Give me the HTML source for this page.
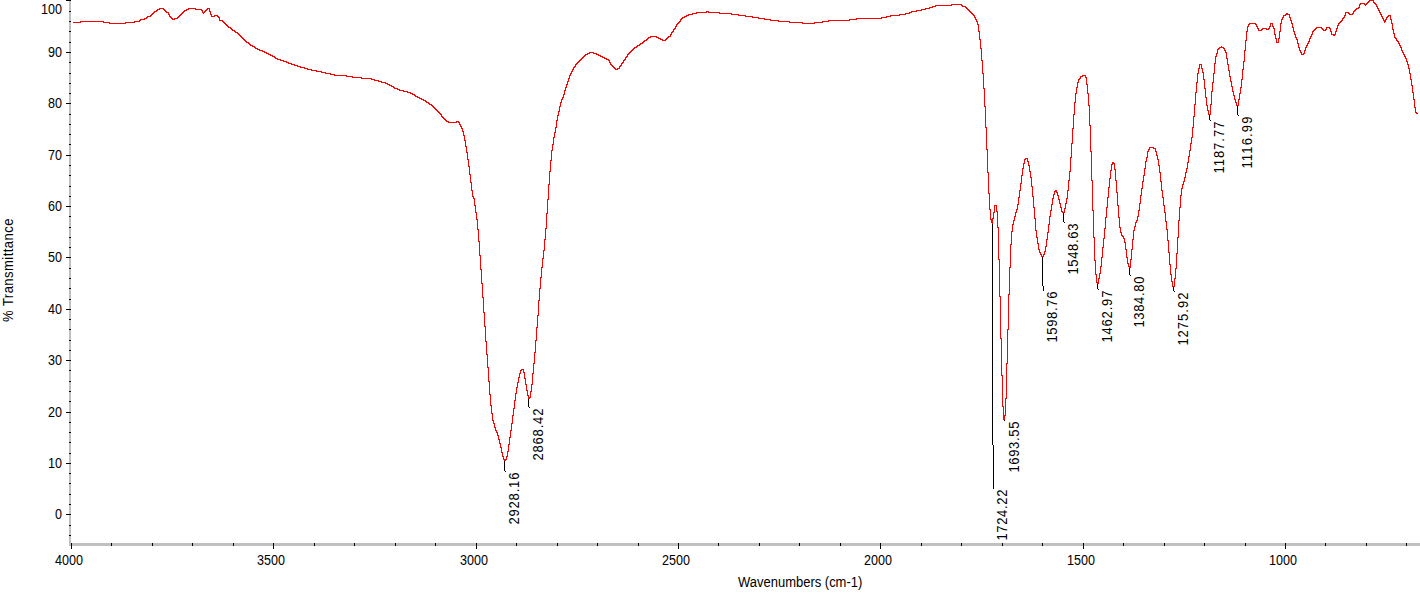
<!DOCTYPE html>
<html><head><meta charset="utf-8"><style>
html,body{margin:0;padding:0;background:#fff;width:1420px;height:596px;overflow:hidden}
svg{display:block}
text{font-family:'Liberation Sans',sans-serif;fill:#000}
</style></head><body>
<svg width="1420" height="596" viewBox="0 0 1420 596">
<rect width="1420" height="596" fill="#fff"/>
<g shape-rendering="crispEdges">
<rect x="69" y="0" width="2" height="546" fill="#c0c0c0"/>
<rect x="71" y="543" width="1349" height="3" fill="#c0c0c0"/>
<rect x="69" y="535" width="2" height="1" fill="#000"/>
<rect x="69" y="525" width="2" height="1" fill="#000"/>
<rect x="66" y="514" width="5" height="1" fill="#000"/>
<rect x="69" y="504" width="2" height="1" fill="#000"/>
<rect x="69" y="494" width="2" height="1" fill="#000"/>
<rect x="69" y="483" width="2" height="1" fill="#000"/>
<rect x="69" y="473" width="2" height="1" fill="#000"/>
<rect x="66" y="463" width="5" height="1" fill="#000"/>
<rect x="69" y="453" width="2" height="1" fill="#000"/>
<rect x="69" y="442" width="2" height="1" fill="#000"/>
<rect x="69" y="432" width="2" height="1" fill="#000"/>
<rect x="69" y="422" width="2" height="1" fill="#000"/>
<rect x="66" y="412" width="5" height="1" fill="#000"/>
<rect x="69" y="401" width="2" height="1" fill="#000"/>
<rect x="69" y="391" width="2" height="1" fill="#000"/>
<rect x="69" y="381" width="2" height="1" fill="#000"/>
<rect x="69" y="370" width="2" height="1" fill="#000"/>
<rect x="66" y="360" width="5" height="1" fill="#000"/>
<rect x="69" y="350" width="2" height="1" fill="#000"/>
<rect x="69" y="340" width="2" height="1" fill="#000"/>
<rect x="69" y="329" width="2" height="1" fill="#000"/>
<rect x="69" y="319" width="2" height="1" fill="#000"/>
<rect x="66" y="309" width="5" height="1" fill="#000"/>
<rect x="69" y="299" width="2" height="1" fill="#000"/>
<rect x="69" y="288" width="2" height="1" fill="#000"/>
<rect x="69" y="278" width="2" height="1" fill="#000"/>
<rect x="69" y="268" width="2" height="1" fill="#000"/>
<rect x="66" y="257" width="5" height="1" fill="#000"/>
<rect x="69" y="247" width="2" height="1" fill="#000"/>
<rect x="69" y="237" width="2" height="1" fill="#000"/>
<rect x="69" y="227" width="2" height="1" fill="#000"/>
<rect x="69" y="216" width="2" height="1" fill="#000"/>
<rect x="66" y="206" width="5" height="1" fill="#000"/>
<rect x="69" y="196" width="2" height="1" fill="#000"/>
<rect x="69" y="186" width="2" height="1" fill="#000"/>
<rect x="69" y="175" width="2" height="1" fill="#000"/>
<rect x="69" y="165" width="2" height="1" fill="#000"/>
<rect x="66" y="155" width="5" height="1" fill="#000"/>
<rect x="69" y="144" width="2" height="1" fill="#000"/>
<rect x="69" y="134" width="2" height="1" fill="#000"/>
<rect x="69" y="124" width="2" height="1" fill="#000"/>
<rect x="69" y="114" width="2" height="1" fill="#000"/>
<rect x="66" y="103" width="5" height="1" fill="#000"/>
<rect x="69" y="93" width="2" height="1" fill="#000"/>
<rect x="69" y="83" width="2" height="1" fill="#000"/>
<rect x="69" y="73" width="2" height="1" fill="#000"/>
<rect x="69" y="62" width="2" height="1" fill="#000"/>
<rect x="66" y="52" width="5" height="1" fill="#000"/>
<rect x="69" y="42" width="2" height="1" fill="#000"/>
<rect x="69" y="31" width="2" height="1" fill="#000"/>
<rect x="69" y="21" width="2" height="1" fill="#000"/>
<rect x="69" y="11" width="2" height="1" fill="#000"/>
<rect x="66" y="0" width="5" height="1" fill="#000"/>
<rect x="71" y="543" width="1" height="6" fill="#000"/>
<rect x="111" y="543" width="1" height="3" fill="#000"/>
<rect x="152" y="543" width="1" height="3" fill="#000"/>
<rect x="192" y="543" width="1" height="3" fill="#000"/>
<rect x="233" y="543" width="1" height="3" fill="#000"/>
<rect x="273" y="543" width="1" height="6" fill="#000"/>
<rect x="314" y="543" width="1" height="3" fill="#000"/>
<rect x="354" y="543" width="1" height="3" fill="#000"/>
<rect x="395" y="543" width="1" height="3" fill="#000"/>
<rect x="435" y="543" width="1" height="3" fill="#000"/>
<rect x="476" y="543" width="1" height="6" fill="#000"/>
<rect x="516" y="543" width="1" height="3" fill="#000"/>
<rect x="557" y="543" width="1" height="3" fill="#000"/>
<rect x="597" y="543" width="1" height="3" fill="#000"/>
<rect x="638" y="543" width="1" height="3" fill="#000"/>
<rect x="678" y="543" width="1" height="6" fill="#000"/>
<rect x="718" y="543" width="1" height="3" fill="#000"/>
<rect x="759" y="543" width="1" height="3" fill="#000"/>
<rect x="799" y="543" width="1" height="3" fill="#000"/>
<rect x="840" y="543" width="1" height="3" fill="#000"/>
<rect x="880" y="543" width="1" height="6" fill="#000"/>
<rect x="921" y="543" width="1" height="3" fill="#000"/>
<rect x="961" y="543" width="1" height="3" fill="#000"/>
<rect x="1002" y="543" width="1" height="3" fill="#000"/>
<rect x="1042" y="543" width="1" height="3" fill="#000"/>
<rect x="1083" y="543" width="1" height="6" fill="#000"/>
<rect x="1123" y="543" width="1" height="3" fill="#000"/>
<rect x="1164" y="543" width="1" height="3" fill="#000"/>
<rect x="1204" y="543" width="1" height="3" fill="#000"/>
<rect x="1245" y="543" width="1" height="3" fill="#000"/>
<rect x="1285" y="543" width="1" height="6" fill="#000"/>
<rect x="1325" y="543" width="1" height="3" fill="#000"/>
<rect x="1366" y="543" width="1" height="3" fill="#000"/>
<rect x="1406" y="543" width="1" height="3" fill="#000"/>
<rect x="504" y="461" width="1" height="10" fill="#000"/>
<rect x="505" y="471" width="1" height="1" fill="#000"/>
<rect x="528" y="399" width="1" height="8" fill="#000"/>
<rect x="529" y="407" width="1" height="1" fill="#000"/>
<rect x="992" y="224" width="1" height="221" fill="#000"/>
<rect x="993" y="445" width="1" height="44" fill="#000"/>
<rect x="1004" y="420" width="1" height="1" fill="#000"/>
<rect x="1042" y="257" width="1" height="29" fill="#000"/>
<rect x="1043" y="286" width="1" height="5" fill="#000"/>
<rect x="1063" y="213" width="1" height="9" fill="#000"/>
<rect x="1064" y="222" width="1" height="1" fill="#000"/>
<rect x="1097" y="284" width="1" height="5" fill="#000"/>
<rect x="1098" y="289" width="1" height="1" fill="#000"/>
<rect x="1129" y="268" width="1" height="7" fill="#000"/>
<rect x="1130" y="275" width="1" height="1" fill="#000"/>
<rect x="1173" y="287" width="1" height="4" fill="#000"/>
<rect x="1174" y="291" width="1" height="1" fill="#000"/>
<rect x="1209" y="114" width="1" height="6" fill="#000"/>
<rect x="1210" y="120" width="1" height="1" fill="#000"/>
<rect x="1237" y="106" width="1" height="9" fill="#000"/>
<rect x="1238" y="115" width="1" height="1" fill="#000"/>
</g>
<path fill="#ff0000" shape-rendering="crispEdges" d="M73 22h7v1h-7zM80 21h1v2h-1zM81 21h22v1h-22zM103 21h1v2h-1zM104 22h5v1h-5zM109 22h1v2h-1zM110 23h15v1h-15zM125 22h1v2h-1zM126 22h8v1h-8zM134 21h1v2h-1zM135 21h4v1h-4zM139 20h1v2h-1zM140 19h1v2h-1zM141 19h3v1h-3zM144 18h1v2h-1zM145 18h1v1h-1zM146 17h1v2h-1zM147 16h1v2h-1zM148 16h2v1h-2zM150 15h1v2h-1zM151 14h1v2h-1zM152 13h1v2h-1zM153 12h1v2h-1zM154 11h1v2h-1zM155 11h1v1h-1zM156 10h1v2h-1zM157 9h1v2h-1zM158 9h1v1h-1zM159 8h1v2h-1zM160 8h3v1h-3zM163 8h1v2h-1zM164 9h1v2h-1zM165 10h1v2h-1zM166 11h1v2h-1zM167 12h1v1h-1zM168 12h1v3h-1zM169 14h1v3h-1zM170 16h1v2h-1zM171 17h1v2h-1zM172 18h1v2h-1zM173 19h1v1h-1zM174 18h1v2h-1zM175 18h2v1h-2zM177 17h1v2h-1zM178 16h1v2h-1zM179 15h1v2h-1zM180 14h1v2h-1zM181 13h1v2h-1zM182 12h1v2h-1zM183 11h1v2h-1zM184 10h1v2h-1zM185 10h1v1h-1zM186 9h1v2h-1zM187 9h1v1h-1zM188 8h1v2h-1zM189 8h6v1h-6zM195 8h1v2h-1zM196 9h5v1h-5zM201 9h1v2h-1zM202 10h1v3h-1zM203 12h1v2h-1zM204 11h1v2h-1zM205 10h1v2h-1zM206 9h1v2h-1zM207 8h1v2h-1zM208 8h1v1h-1zM209 8h1v4h-1zM210 11h1v4h-1zM211 14h1v3h-1zM212 16h2v1h-2zM214 15h1v2h-1zM215 15h2v1h-2zM217 15h1v2h-1zM218 16h1v2h-1zM219 17h1v4h-1zM220 20h2v1h-2zM222 20h1v2h-1zM223 21h1v2h-1zM224 22h1v2h-1zM225 23h1v2h-1zM226 24h1v2h-1zM227 25h1v2h-1zM228 26h1v2h-1zM229 27h1v1h-1zM230 27h1v2h-1zM231 28h1v2h-1zM232 29h1v2h-1zM233 30h1v1h-1zM234 30h1v2h-1zM235 31h1v2h-1zM236 32h1v1h-1zM237 32h1v2h-1zM238 33h1v2h-1zM239 34h1v2h-1zM240 35h1v2h-1zM241 36h1v2h-1zM242 37h1v2h-1zM243 38h1v2h-1zM244 39h1v2h-1zM245 40h1v2h-1zM246 41h1v2h-1zM247 42h1v1h-1zM248 42h1v2h-1zM249 43h1v2h-1zM250 44h1v2h-1zM251 45h1v1h-1zM252 45h1v2h-1zM253 46h1v1h-1zM254 46h1v2h-1zM255 47h1v2h-1zM256 48h1v1h-1zM257 48h1v2h-1zM258 49h1v1h-1zM259 49h1v2h-1zM260 50h2v1h-2zM262 50h1v2h-1zM263 51h1v1h-1zM264 51h1v2h-1zM265 52h1v1h-1zM266 52h1v2h-1zM267 53h1v1h-1zM268 53h1v2h-1zM269 54h1v1h-1zM270 54h1v2h-1zM271 55h1v1h-1zM272 55h1v2h-1zM273 56h1v1h-1zM274 56h1v2h-1zM275 57h1v2h-1zM276 58h1v1h-1zM277 58h1v2h-1zM278 59h2v1h-2zM280 59h1v2h-1zM281 60h2v1h-2zM283 60h1v2h-1zM284 61h2v1h-2zM286 61h1v2h-1zM287 62h1v1h-1zM288 62h1v2h-1zM289 63h2v1h-2zM291 63h1v2h-1zM292 64h2v1h-2zM294 64h1v2h-1zM295 65h2v1h-2zM297 65h1v2h-1zM298 66h2v1h-2zM300 66h1v2h-1zM301 67h3v1h-3zM304 67h1v2h-1zM305 68h2v1h-2zM307 68h1v2h-1zM308 69h3v1h-3zM311 69h1v2h-1zM312 70h4v1h-4zM316 70h1v2h-1zM317 71h4v1h-4zM321 71h1v2h-1zM322 72h3v1h-3zM325 72h1v2h-1zM326 73h4v1h-4zM330 73h1v2h-1zM331 74h3v1h-3zM334 74h1v2h-1zM335 75h11v1h-11zM346 75h1v2h-1zM347 76h5v1h-5zM352 76h1v2h-1zM353 77h8v1h-8zM361 77h1v2h-1zM362 78h9v1h-9zM371 78h1v2h-1zM372 79h2v1h-2zM374 79h1v2h-1zM375 80h3v1h-3zM378 80h1v2h-1zM379 81h2v1h-2zM381 81h1v2h-1zM382 82h3v1h-3zM385 82h1v2h-1zM386 83h1v1h-1zM387 83h1v2h-1zM388 84h1v1h-1zM389 84h1v2h-1zM390 85h1v1h-1zM391 85h1v2h-1zM392 86h1v1h-1zM393 86h1v2h-1zM394 87h1v2h-1zM395 88h2v1h-2zM397 88h1v2h-1zM398 89h1v1h-1zM399 89h1v2h-1zM400 90h3v1h-3zM403 90h1v2h-1zM404 91h3v1h-3zM407 91h1v2h-1zM408 92h2v1h-2zM410 92h1v2h-1zM411 93h1v1h-1zM412 93h1v2h-1zM413 94h1v1h-1zM414 94h1v2h-1zM415 95h1v2h-1zM416 96h1v1h-1zM417 96h1v2h-1zM418 97h1v1h-1zM419 97h1v2h-1zM420 98h1v1h-1zM421 98h1v2h-1zM422 99h1v1h-1zM423 99h1v2h-1zM424 100h1v1h-1zM425 100h1v2h-1zM426 101h1v2h-1zM427 102h1v1h-1zM428 102h1v2h-1zM429 103h1v2h-1zM430 104h1v1h-1zM431 104h1v2h-1zM432 105h1v2h-1zM433 106h1v2h-1zM434 107h1v2h-1zM435 108h1v2h-1zM436 109h1v2h-1zM437 110h1v2h-1zM438 111h1v2h-1zM439 112h1v2h-1zM440 113h1v2h-1zM441 114h1v3h-1zM442 116h1v2h-1zM443 117h1v2h-1zM444 118h1v2h-1zM445 119h1v2h-1zM446 120h1v2h-1zM447 121h1v1h-1zM448 121h1v2h-1zM449 122h7v1h-7zM456 121h1v2h-1zM457 121h1v1h-1zM458 121h1v2h-1zM459 122h1v3h-1zM460 124h1v3h-1zM461 126h1v3h-1zM462 128h1v4h-1zM463 131h1v5h-1zM464 135h1v6h-1zM465 140h1v7h-1zM466 146h1v7h-1zM467 152h1v8h-1zM468 159h1v8h-1zM469 166h1v9h-1zM470 174h1v9h-1zM471 182h1v9h-1zM472 190h1v7h-1zM473 196h1v3h-1zM474 198h1v8h-1zM475 205h1v8h-1zM476 212h1v8h-1zM477 219h1v11h-1zM478 229h1v13h-1zM479 241h1v15h-1zM480 255h1v15h-1zM481 269h1v15h-1zM482 283h1v15h-1zM483 297h1v16h-1zM484 312h1v15h-1zM485 326h1v16h-1zM486 341h1v14h-1zM487 354h1v14h-1zM488 367h1v15h-1zM489 381h1v14h-1zM490 394h1v12h-1zM491 405h1v9h-1zM492 413h1v8h-1zM493 420h1v4h-1zM494 423h1v5h-1zM495 427h1v4h-1zM496 430h1v3h-1zM497 432h1v4h-1zM498 435h1v5h-1zM499 439h1v5h-1zM500 443h1v5h-1zM501 447h1v6h-1zM502 452h1v5h-1zM503 456h1v4h-1zM504 459h2v2h-2zM506 456h1v4h-1zM507 451h1v6h-1zM508 444h1v8h-1zM509 437h1v8h-1zM510 430h1v8h-1zM511 423h1v8h-1zM512 415h1v9h-1zM513 408h1v8h-1zM514 400h1v9h-1zM515 393h1v8h-1zM516 387h1v7h-1zM517 382h1v6h-1zM518 377h1v6h-1zM519 373h1v5h-1zM520 370h1v4h-1zM521 369h1v2h-1zM522 369h1v1h-1zM523 369h1v4h-1zM524 372h1v7h-1zM525 378h1v7h-1zM526 384h1v7h-1zM527 390h1v6h-1zM528 395h1v4h-1zM529 397h1v2h-1zM530 391h1v7h-1zM531 384h1v8h-1zM532 373h1v12h-1zM533 363h1v11h-1zM534 352h1v12h-1zM535 340h1v13h-1zM536 327h1v14h-1zM537 315h1v13h-1zM538 300h1v16h-1zM539 288h1v13h-1zM540 277h1v12h-1zM541 267h1v11h-1zM542 258h1v10h-1zM543 250h1v9h-1zM544 239h1v12h-1zM545 228h1v12h-1zM546 213h1v16h-1zM547 199h1v15h-1zM548 184h1v16h-1zM549 171h1v14h-1zM550 160h1v12h-1zM551 150h1v11h-1zM552 144h1v7h-1zM553 137h1v8h-1zM554 132h1v6h-1zM555 127h1v6h-1zM556 120h1v8h-1zM557 115h1v6h-1zM558 111h1v5h-1zM559 106h1v6h-1zM560 102h1v5h-1zM561 99h1v4h-1zM562 97h1v3h-1zM563 94h1v4h-1zM564 90h1v5h-1zM565 87h1v4h-1zM566 84h1v4h-1zM567 81h1v4h-1zM568 78h1v4h-1zM569 75h1v4h-1zM570 73h1v3h-1zM571 71h1v3h-1zM572 69h1v3h-1zM573 67h1v3h-1zM574 66h1v2h-1zM575 64h1v3h-1zM576 63h1v2h-1zM577 62h1v2h-1zM578 61h1v2h-1zM579 60h1v2h-1zM580 59h1v2h-1zM581 58h1v2h-1zM582 57h1v2h-1zM583 56h1v2h-1zM584 55h1v2h-1zM585 54h1v2h-1zM586 54h1v1h-1zM587 53h1v2h-1zM588 53h1v1h-1zM589 52h1v2h-1zM590 52h3v1h-3zM593 52h1v2h-1zM594 53h2v1h-2zM596 53h1v2h-1zM597 54h1v1h-1zM598 54h1v2h-1zM599 55h1v1h-1zM600 55h1v2h-1zM601 56h1v1h-1zM602 56h1v2h-1zM603 57h1v1h-1zM604 57h1v2h-1zM605 58h1v1h-1zM606 58h1v2h-1zM607 59h1v1h-1zM608 59h1v2h-1zM609 60h1v3h-1zM610 62h1v3h-1zM611 64h1v2h-1zM612 65h1v2h-1zM613 66h1v2h-1zM614 67h1v2h-1zM615 68h1v2h-1zM616 69h1v1h-1zM617 68h1v2h-1zM618 68h1v1h-1zM619 66h1v3h-1zM620 65h1v2h-1zM621 63h1v3h-1zM622 62h1v2h-1zM623 60h1v3h-1zM624 59h1v2h-1zM625 57h1v3h-1zM626 56h1v2h-1zM627 54h1v3h-1zM628 53h1v2h-1zM629 52h1v2h-1zM630 51h1v2h-1zM631 50h1v2h-1zM632 49h1v2h-1zM633 48h1v2h-1zM634 47h1v2h-1zM635 47h1v1h-1zM636 46h1v2h-1zM637 45h1v2h-1zM638 45h1v1h-1zM639 44h1v2h-1zM640 43h1v2h-1zM641 43h1v1h-1zM642 42h1v2h-1zM643 41h1v2h-1zM644 40h1v2h-1zM645 40h1v1h-1zM646 39h1v2h-1zM647 38h1v2h-1zM648 37h1v2h-1zM649 37h1v1h-1zM650 36h1v2h-1zM651 36h5v1h-5zM656 36h1v2h-1zM657 37h1v1h-1zM658 37h1v2h-1zM659 38h1v1h-1zM660 38h1v2h-1zM661 39h1v1h-1zM662 39h1v2h-1zM663 40h2v1h-2zM665 39h1v2h-1zM666 38h1v2h-1zM667 37h1v2h-1zM668 36h1v2h-1zM669 36h1v1h-1zM670 34h1v3h-1zM671 32h1v3h-1zM672 31h1v2h-1zM673 29h1v3h-1zM674 28h1v2h-1zM675 26h1v3h-1zM676 24h1v3h-1zM677 23h1v2h-1zM678 22h1v2h-1zM679 21h1v2h-1zM680 19h1v3h-1zM681 18h1v2h-1zM682 17h1v2h-1zM683 17h1v1h-1zM684 16h1v2h-1zM685 16h1v1h-1zM686 15h1v2h-1zM687 15h1v1h-1zM688 14h1v2h-1zM689 14h3v1h-3zM692 13h1v2h-1zM693 13h3v1h-3zM696 12h1v2h-1zM697 12h9v1h-9zM706 11h1v2h-1zM707 11h1v1h-1zM708 11h1v2h-1zM709 12h10v1h-10zM719 12h1v2h-1zM720 13h11v1h-11zM731 13h1v2h-1zM732 14h6v1h-6zM738 14h1v2h-1zM739 15h6v1h-6zM745 15h1v2h-1zM746 16h6v1h-6zM752 16h1v2h-1zM753 17h5v1h-5zM758 17h1v2h-1zM759 18h5v1h-5zM764 18h1v2h-1zM765 19h5v1h-5zM770 19h1v2h-1zM771 20h7v1h-7zM778 20h1v2h-1zM779 21h10v1h-10zM789 21h1v2h-1zM790 22h12v1h-12zM802 22h1v2h-1zM803 23h11v1h-11zM814 22h1v2h-1zM815 22h7v1h-7zM822 21h1v2h-1zM823 21h5v1h-5zM828 20h1v2h-1zM829 20h20v1h-20zM849 19h1v2h-1zM850 19h6v1h-6zM856 18h1v2h-1zM857 18h24v1h-24zM881 17h1v2h-1zM882 17h4v1h-4zM886 16h1v2h-1zM887 16h3v1h-3zM890 15h1v2h-1zM891 15h8v1h-8zM899 14h1v2h-1zM900 14h5v1h-5zM905 13h1v2h-1zM906 13h3v1h-3zM909 12h1v2h-1zM910 12h1v1h-1zM911 11h1v2h-1zM912 11h4v1h-4zM916 10h1v2h-1zM917 10h4v1h-4zM921 9h1v2h-1zM922 9h3v1h-3zM925 8h1v2h-1zM926 8h3v1h-3zM929 7h1v2h-1zM930 7h2v1h-2zM932 6h1v2h-1zM933 6h2v1h-2zM935 5h1v2h-1zM936 5h15v1h-15zM951 4h1v2h-1zM952 4h9v1h-9zM961 4h1v2h-1zM962 5h1v2h-1zM963 6h2v1h-2zM965 6h1v2h-1zM966 7h1v2h-1zM967 8h1v2h-1zM968 9h1v2h-1zM969 10h1v2h-1zM970 11h1v2h-1zM971 12h1v2h-1zM972 13h1v2h-1zM973 14h1v2h-1zM974 15h1v3h-1zM975 17h1v3h-1zM976 19h1v3h-1zM977 21h1v4h-1zM978 24h1v8h-1zM979 31h1v9h-1zM980 39h1v10h-1zM981 48h1v13h-1zM982 60h1v14h-1zM983 73h1v16h-1zM984 88h1v19h-1zM985 106h1v22h-1zM986 127h1v23h-1zM987 149h1v24h-1zM988 172h1v22h-1zM989 193h1v17h-1zM990 209h1v11h-1zM991 219h1v4h-1zM992 218h1v6h-1zM993 212h1v7h-1zM994 205h1v8h-1zM995 205h1v1h-1zM996 205h1v7h-1zM997 211h1v17h-1zM998 227h1v33h-1zM999 259h1v38h-1zM1000 296h1v43h-1zM1001 338h1v38h-1zM1002 375h1v32h-1zM1003 406h1v14h-1zM1004 415h1v5h-1zM1005 398h1v18h-1zM1006 363h1v36h-1zM1007 329h1v35h-1zM1008 294h1v36h-1zM1009 267h1v28h-1zM1010 244h1v24h-1zM1011 231h1v14h-1zM1012 224h1v8h-1zM1013 220h1v5h-1zM1014 216h1v5h-1zM1015 212h1v5h-1zM1016 209h1v4h-1zM1017 204h1v6h-1zM1018 197h1v8h-1zM1019 190h1v8h-1zM1020 183h1v8h-1zM1021 175h1v9h-1zM1022 168h1v8h-1zM1023 163h1v6h-1zM1024 159h1v5h-1zM1025 158h1v2h-1zM1026 158h1v1h-1zM1027 158h1v4h-1zM1028 161h1v5h-1zM1029 165h1v7h-1zM1030 171h1v7h-1zM1031 177h1v10h-1zM1032 186h1v11h-1zM1033 196h1v12h-1zM1034 207h1v12h-1zM1035 218h1v13h-1zM1036 230h1v8h-1zM1037 237h1v7h-1zM1038 243h1v7h-1zM1039 249h1v4h-1zM1040 252h1v3h-1zM1041 254h1v3h-1zM1042 256h1v1h-1zM1043 254h1v3h-1zM1044 251h1v4h-1zM1045 246h1v6h-1zM1046 239h1v8h-1zM1047 232h1v8h-1zM1048 224h1v9h-1zM1049 216h1v9h-1zM1050 210h1v7h-1zM1051 204h1v7h-1zM1052 198h1v7h-1zM1053 194h1v5h-1zM1054 191h1v4h-1zM1055 190h1v2h-1zM1056 190h1v3h-1zM1057 192h1v4h-1zM1058 195h1v5h-1zM1059 199h1v5h-1zM1060 203h1v5h-1zM1061 207h1v5h-1zM1062 211h1v2h-1zM1063 212h1v1h-1zM1064 208h1v5h-1zM1065 203h1v6h-1zM1066 198h1v6h-1zM1067 190h1v9h-1zM1068 180h1v11h-1zM1069 171h1v10h-1zM1070 157h1v15h-1zM1071 143h1v15h-1zM1072 128h1v16h-1zM1073 114h1v15h-1zM1074 102h1v13h-1zM1075 93h1v10h-1zM1076 87h1v7h-1zM1077 82h1v6h-1zM1078 79h1v4h-1zM1079 78h1v2h-1zM1080 76h1v3h-1zM1081 76h1v1h-1zM1082 75h1v2h-1zM1083 75h2v1h-2zM1085 75h1v3h-1zM1086 77h1v8h-1zM1087 84h1v10h-1zM1088 93h1v13h-1zM1089 105h1v21h-1zM1090 125h1v27h-1zM1091 151h1v30h-1zM1092 180h1v31h-1zM1093 210h1v28h-1zM1094 237h1v24h-1zM1095 260h1v15h-1zM1096 274h1v9h-1zM1097 282h1v2h-1zM1098 278h1v6h-1zM1099 273h1v6h-1zM1100 266h1v8h-1zM1101 257h1v10h-1zM1102 247h1v11h-1zM1103 238h1v10h-1zM1104 228h1v11h-1zM1105 217h1v12h-1zM1106 207h1v11h-1zM1107 197h1v11h-1zM1108 187h1v11h-1zM1109 178h1v10h-1zM1110 170h1v9h-1zM1111 164h1v7h-1zM1112 162h1v3h-1zM1113 162h1v2h-1zM1114 163h1v7h-1zM1115 169h1v12h-1zM1116 180h1v13h-1zM1117 192h1v14h-1zM1118 205h1v13h-1zM1119 217h1v11h-1zM1120 227h1v6h-1zM1121 232h1v4h-1zM1122 235h1v2h-1zM1123 236h1v3h-1zM1124 238h1v5h-1zM1125 242h1v8h-1zM1126 249h1v9h-1zM1127 257h1v7h-1zM1128 263h1v4h-1zM1129 266h1v2h-1zM1130 259h1v9h-1zM1131 249h1v11h-1zM1132 239h1v11h-1zM1133 230h1v10h-1zM1134 226h1v5h-1zM1135 222h1v5h-1zM1136 220h1v3h-1zM1137 216h1v5h-1zM1138 210h1v7h-1zM1139 203h1v8h-1zM1140 195h1v9h-1zM1141 188h1v8h-1zM1142 181h1v8h-1zM1143 175h1v7h-1zM1144 168h1v8h-1zM1145 161h1v8h-1zM1146 157h1v5h-1zM1147 151h1v7h-1zM1148 149h1v3h-1zM1149 147h1v3h-1zM1150 147h3v1h-3zM1153 147h1v2h-1zM1154 148h1v1h-1zM1155 148h1v4h-1zM1156 151h1v5h-1zM1157 155h1v5h-1zM1158 159h1v7h-1zM1159 165h1v8h-1zM1160 172h1v10h-1zM1161 181h1v10h-1zM1162 190h1v8h-1zM1163 197h1v9h-1zM1164 205h1v8h-1zM1165 212h1v10h-1zM1166 221h1v9h-1zM1167 229h1v12h-1zM1168 240h1v13h-1zM1169 252h1v13h-1zM1170 264h1v11h-1zM1171 274h1v8h-1zM1172 281h1v6h-1zM1173 286h1v1h-1zM1174 278h1v9h-1zM1175 268h1v11h-1zM1176 253h1v16h-1zM1177 237h1v17h-1zM1178 220h1v18h-1zM1179 207h1v14h-1zM1180 195h1v13h-1zM1181 188h1v8h-1zM1182 184h1v5h-1zM1183 181h1v4h-1zM1184 177h1v5h-1zM1185 172h1v6h-1zM1186 168h1v5h-1zM1187 162h1v7h-1zM1188 156h1v7h-1zM1189 150h1v7h-1zM1190 143h1v8h-1zM1191 137h1v7h-1zM1192 127h1v11h-1zM1193 116h1v12h-1zM1194 104h1v13h-1zM1195 92h1v13h-1zM1196 82h1v11h-1zM1197 73h1v10h-1zM1198 68h1v6h-1zM1199 64h1v5h-1zM1200 64h1v1h-1zM1201 64h1v5h-1zM1202 68h1v5h-1zM1203 72h1v8h-1zM1204 79h1v10h-1zM1205 88h1v10h-1zM1206 97h1v9h-1zM1207 105h1v6h-1zM1208 110h1v5h-1zM1209 114h1v1h-1zM1210 104h1v11h-1zM1211 91h1v14h-1zM1212 82h1v10h-1zM1213 73h1v10h-1zM1214 63h1v11h-1zM1215 56h1v8h-1zM1216 53h1v4h-1zM1217 49h1v5h-1zM1218 48h1v2h-1zM1219 47h1v2h-1zM1220 47h1v1h-1zM1221 46h1v2h-1zM1222 47h1v1h-1zM1223 47h1v2h-1zM1224 48h1v3h-1zM1225 50h1v3h-1zM1226 52h1v7h-1zM1227 58h1v7h-1zM1228 64h1v7h-1zM1229 70h1v7h-1zM1230 76h1v6h-1zM1231 81h1v6h-1zM1232 86h1v6h-1zM1233 91h1v5h-1zM1234 95h1v5h-1zM1235 99h1v4h-1zM1236 102h1v4h-1zM1237 105h1v1h-1zM1238 99h1v7h-1zM1239 93h1v7h-1zM1240 87h1v7h-1zM1241 79h1v9h-1zM1242 69h1v11h-1zM1243 61h1v9h-1zM1244 50h1v12h-1zM1245 40h1v11h-1zM1246 31h1v10h-1zM1247 26h1v6h-1zM1248 24h1v3h-1zM1249 23h1v2h-1zM1250 23h5v1h-5zM1255 23h1v2h-1zM1256 24h1v3h-1zM1257 26h1v3h-1zM1258 28h1v3h-1zM1259 30h2v1h-2zM1261 29h1v2h-1zM1262 28h1v2h-1zM1263 28h3v1h-3zM1266 28h1v2h-1zM1267 29h1v1h-1zM1268 28h1v2h-1zM1269 26h1v3h-1zM1270 23h1v4h-1zM1271 23h1v1h-1zM1272 23h1v4h-1zM1273 26h1v3h-1zM1274 28h1v7h-1zM1275 34h1v5h-1zM1276 38h1v5h-1zM1277 42h1v1h-1zM1278 38h1v5h-1zM1279 31h1v8h-1zM1280 23h1v9h-1zM1281 19h1v5h-1zM1282 17h1v3h-1zM1283 15h1v3h-1zM1284 15h1v1h-1zM1285 14h1v2h-1zM1286 13h2v2h-2zM1288 14h1v1h-1zM1289 14h1v4h-1zM1290 17h1v4h-1zM1291 20h1v4h-1zM1292 23h1v5h-1zM1293 27h1v5h-1zM1294 31h1v4h-1zM1295 34h1v4h-1zM1296 37h1v3h-1zM1297 39h1v5h-1zM1298 43h1v5h-1zM1299 47h1v4h-1zM1300 50h1v3h-1zM1301 52h1v3h-1zM1302 54h1v1h-1zM1303 53h1v2h-1zM1304 50h1v4h-1zM1305 47h1v4h-1zM1306 45h1v3h-1zM1307 43h1v3h-1zM1308 41h1v3h-1zM1309 38h1v4h-1zM1310 36h1v3h-1zM1311 34h1v3h-1zM1312 31h1v4h-1zM1313 30h1v2h-1zM1314 29h1v2h-1zM1315 28h1v2h-1zM1316 27h1v2h-1zM1317 27h4v1h-4zM1321 27h1v2h-1zM1322 28h1v2h-1zM1323 29h1v2h-1zM1324 30h1v1h-1zM1325 29h1v2h-1zM1326 27h1v3h-1zM1327 27h2v1h-2zM1329 27h1v2h-1zM1330 28h1v4h-1zM1331 31h1v4h-1zM1332 34h1v1h-1zM1333 34h2v2h-2zM1335 31h1v4h-1zM1336 28h1v4h-1zM1337 25h1v4h-1zM1338 23h1v3h-1zM1339 22h1v2h-1zM1340 21h1v2h-1zM1341 20h1v2h-1zM1342 18h1v3h-1zM1343 17h1v2h-1zM1344 15h1v3h-1zM1345 12h1v4h-1zM1346 12h2v1h-2zM1348 12h1v2h-1zM1349 13h1v2h-1zM1350 14h2v1h-2zM1352 13h1v2h-1zM1353 11h1v3h-1zM1354 10h1v2h-1zM1355 9h1v2h-1zM1356 8h1v2h-1zM1357 8h1v1h-1zM1358 7h1v2h-1zM1359 4h1v4h-1zM1360 3h1v2h-1zM1361 3h3v1h-3zM1364 3h1v2h-1zM1365 4h1v2h-1zM1366 3h1v2h-1zM1367 2h1v2h-1zM1368 1h1v2h-1zM1369 0h1v2h-1zM1370 0h3v1h-3zM1373 0h1v3h-1zM1374 2h1v2h-1zM1375 3h1v2h-1zM1376 4h1v3h-1zM1377 6h1v3h-1zM1378 8h1v3h-1zM1379 10h1v3h-1zM1380 12h1v3h-1zM1381 14h1v3h-1zM1382 16h1v3h-1zM1383 18h1v3h-1zM1384 20h1v3h-1zM1385 19h1v3h-1zM1386 17h1v3h-1zM1387 16h1v2h-1zM1388 15h1v2h-1zM1389 15h1v1h-1zM1390 15h1v5h-1zM1391 19h1v5h-1zM1392 23h1v7h-1zM1393 29h1v5h-1zM1394 33h1v5h-1zM1395 37h1v2h-1zM1396 38h1v3h-1zM1397 40h1v2h-1zM1398 41h1v3h-1zM1399 43h1v3h-1zM1400 45h1v3h-1zM1401 47h1v4h-1zM1402 50h1v3h-1zM1403 52h1v3h-1zM1404 54h1v3h-1zM1405 56h1v3h-1zM1406 58h1v4h-1zM1407 61h1v4h-1zM1408 64h1v5h-1zM1409 68h1v6h-1zM1410 73h1v7h-1zM1411 79h1v7h-1zM1412 85h1v8h-1zM1413 92h1v8h-1zM1414 99h1v9h-1zM1415 107h1v6h-1zM1416 112h1v2h-1zM1417 113h1v1h-1z"/>
<g>
<text transform="translate(61.9,519.2) scale(1,1.12)" text-anchor="end" font-size="12.6">0</text>
<text transform="translate(61.9,468.2) scale(1,1.12)" text-anchor="end" font-size="12.6">10</text>
<text transform="translate(61.9,417.2) scale(1,1.12)" text-anchor="end" font-size="12.6">20</text>
<text transform="translate(61.9,365.2) scale(1,1.12)" text-anchor="end" font-size="12.6">30</text>
<text transform="translate(61.9,314.2) scale(1,1.12)" text-anchor="end" font-size="12.6">40</text>
<text transform="translate(61.9,262.2) scale(1,1.12)" text-anchor="end" font-size="12.6">50</text>
<text transform="translate(61.9,211.2) scale(1,1.12)" text-anchor="end" font-size="12.6">60</text>
<text transform="translate(61.9,160.2) scale(1,1.12)" text-anchor="end" font-size="12.6">70</text>
<text transform="translate(61.9,108.2) scale(1,1.12)" text-anchor="end" font-size="12.6">80</text>
<text transform="translate(61.9,57.2) scale(1,1.12)" text-anchor="end" font-size="12.6">90</text>
<text transform="translate(61.9,13.7) scale(1,1.12)" text-anchor="end" font-size="12.6">100</text>
<text transform="translate(82.9,565) scale(1,1.12)" text-anchor="end" font-size="12.6">4000</text>
<text transform="translate(284.9,565) scale(1,1.12)" text-anchor="end" font-size="12.6">3500</text>
<text transform="translate(487.9,565) scale(1,1.12)" text-anchor="end" font-size="12.6">3000</text>
<text transform="translate(689.9,565) scale(1,1.12)" text-anchor="end" font-size="12.6">2500</text>
<text transform="translate(891.9,565) scale(1,1.12)" text-anchor="end" font-size="12.6">2000</text>
<text transform="translate(1094.9,565) scale(1,1.12)" text-anchor="end" font-size="12.6">1500</text>
<text transform="translate(1296.9,565) scale(1,1.12)" text-anchor="end" font-size="12.6">1000</text>
<text transform="translate(738,587) scale(1,1.06)" font-size="13">Wavenumbers (cm-1)</text>
<text transform="translate(12.8,322) rotate(-90) scale(1,1.08)" font-size="13" textLength="103.5" lengthAdjust="spacing">% Transmittance</text>
<text transform="translate(519.3,524.6) rotate(-90) scale(1.0,1.14)" font-size="13" textLength="52.00" lengthAdjust="spacing">2928.16</text>
<text transform="translate(543.3,460.6) rotate(-90) scale(1.0,1.14)" font-size="13" textLength="52.00" lengthAdjust="spacing">2868.42</text>
<text transform="translate(1007.3,540.6) rotate(-90) scale(1.0,1.14)" font-size="13" textLength="51.00" lengthAdjust="spacing">1724.22</text>
<text transform="translate(1019.3,472.6) rotate(-90) scale(1.0,1.14)" font-size="13" textLength="51.00" lengthAdjust="spacing">1693.55</text>
<text transform="translate(1057.3,342.6) rotate(-90) scale(1.0,1.14)" font-size="13" textLength="51.00" lengthAdjust="spacing">1598.76</text>
<text transform="translate(1078.3,274.6) rotate(-90) scale(1.0,1.14)" font-size="13" textLength="51.00" lengthAdjust="spacing">1548.63</text>
<text transform="translate(1112.3,342.6) rotate(-90) scale(1.0,1.14)" font-size="13" textLength="52.00" lengthAdjust="spacing">1462.97</text>
<text transform="translate(1144.3,327.6) rotate(-90) scale(1.0,1.14)" font-size="13" textLength="51.00" lengthAdjust="spacing">1384.80</text>
<text transform="translate(1188.3,345.6) rotate(-90) scale(1.0,1.14)" font-size="13" textLength="53.00" lengthAdjust="spacing">1275.92</text>
<text transform="translate(1224.3,173.6) rotate(-90) scale(1.0,1.14)" font-size="13" textLength="52.00" lengthAdjust="spacing">1187.77</text>
<text transform="translate(1252.3,168.6) rotate(-90) scale(1.0,1.14)" font-size="13" textLength="52.00" lengthAdjust="spacing">1116.99</text>
</g>
</svg>
</body></html>
